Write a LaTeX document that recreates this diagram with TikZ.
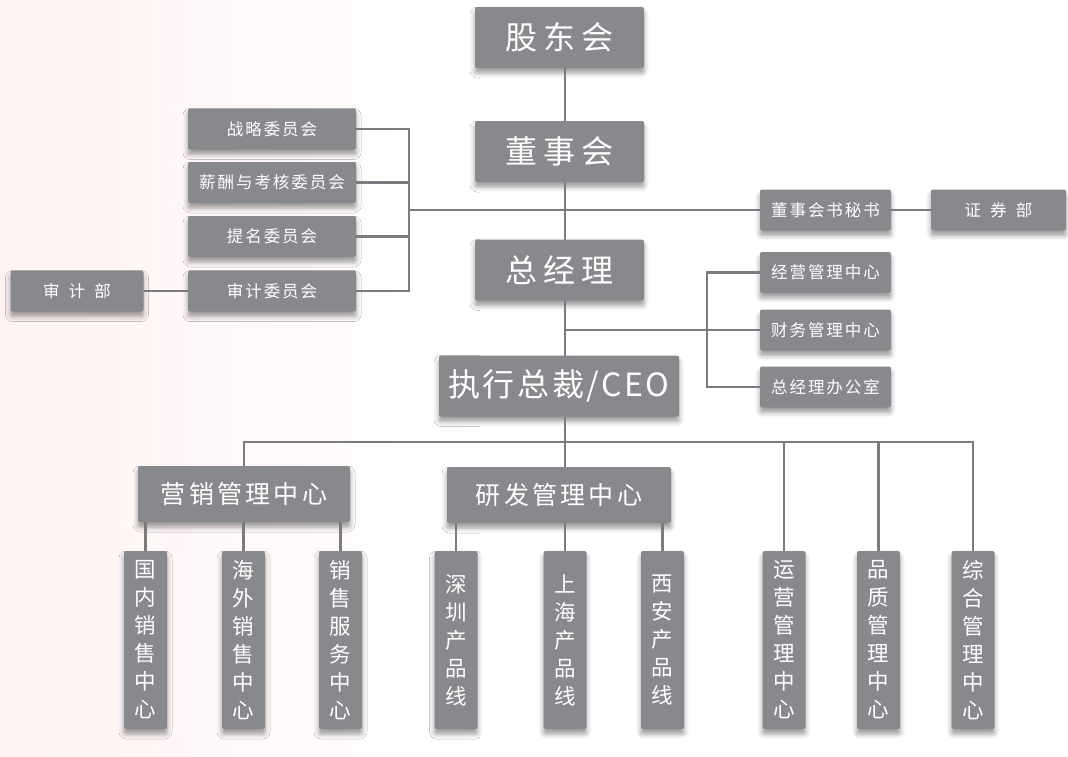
\documentclass[tikz,border=0pt]{standalone}
\usepackage{fontspec}
\setmainfont{Noto Sans CJK SC}
\newfontfamily\bigfont[LetterSpace=18]{Noto Sans CJK SC}
\newfontfamily\ceofont[LetterSpace=8]{Noto Sans CJK SC}
\newfontfamily\midfont[LetterSpace=13]{Noto Sans CJK SC}
\newfontfamily\smallfont[LetterSpace=12]{Noto Sans CJK SC}
\newfontfamily\widefont[LetterSpace=55]{Noto Sans CJK SC}
\usetikzlibrary{shadows.blur}
\definecolor{boxgray}{RGB}{136,137,141}
\definecolor{linegray}{RGB}{122,123,127}

\begin{document}
\begin{tikzpicture}[x=1pt,y=-1pt,
  box/.style={fill=boxgray, text=white, rounded corners=2pt, inner sep=0pt, outer sep=0pt,
    blur shadow={shadow xshift=0pt, shadow yshift=-5pt, shadow blur radius=5pt, shadow opacity=40}},
  big/.style={box, minimum width=169pt, minimum height=61pt, font=\bigfont\fontsize{32}{36}\selectfont},
  mid/.style={box, minimum height=56pt, font=\midfont\fontsize{25}{30}\selectfont},
  small/.style={box, minimum width=131pt, minimum height=41pt, font=\smallfont\fontsize{16.5}{20}\selectfont},
  wide/.style={small, minimum width=133pt, font=\widefont\fontsize{16.5}{20}\selectfont},
  vbox/.style={box, minimum width=43pt, minimum height=178pt, align=center, font=\fontsize{21.5}{28}\selectfont},
  line/.style={draw=linegray, line width=2.8pt}]
\useasboundingbox (0,0) rectangle (1068,756);
\shade[left color=red!5, right color=white] (0,0) rectangle (480,756);

\node[big] (gd) at (559.5,37.5) {股东会};
\node[big] (ds) at (559.5,151.5) {董事会};
\node[big] (zjl) at (559.5,270) {总经理};
\node[big, minimum width=240pt, font=\ceofont\fontsize{32}{36}\selectfont] (ceo) at (559,386) {执行总裁/CEO};

\node[small, minimum width=168pt] (zlwy) at (272,129) {战略委员会};
\node[small, minimum width=168pt] (xcwy) at (272,182.5) {薪酬与考核委员会};
\node[small, minimum width=168pt] (tmwy) at (272,236.5) {提名委员会};
\node[small, minimum width=168pt] (sjwy) at (272,291) {审计委员会};
\node[wide] (sjb) at (77,291) {审计部};

\node[small] (msh) at (825.5,210) {董事会书秘书};
\node[wide, minimum width=135pt] (zqb) at (998.5,210) {证券部};
\node[small] (jy) at (825.5,272.5) {经营管理中心};
\node[small] (cw) at (825.5,330) {财务管理中心};
\node[small] (zb) at (825.5,387) {总经理办公室};

\node[mid, minimum width=212pt] (yx) at (244,494) {营销管理中心};
\node[mid, minimum width=224pt] (yf) at (559,495) {研发管理中心};

\node[vbox] (gn) at (145.5,640) {国\\内\\销\\售\\中\\心};
\node[vbox] (hw) at (243.5,640) {海\\外\\销\\售\\中\\心};
\node[vbox] (xs) at (340.5,640) {销\\售\\服\\务\\中\\心};
\node[vbox] (sz) at (456,640) {深\\圳\\产\\品\\线};
\node[vbox] (sh) at (565,640) {上\\海\\产\\品\\线};
\node[vbox] (xa) at (662.5,640) {西\\安\\产\\品\\线};
\node[vbox] (yy) at (784,640) {运\\营\\管\\理\\中\\心};
\node[vbox] (pz) at (878.5,640) {品\\质\\管\\理\\中\\心};
\node[vbox] (zh) at (973,640) {综\\合\\管\\理\\中\\心};

\coordinate (wy) at (409,210);
\coordinate (gl) at (707,330);
\coordinate (sp) at (565,330);
\coordinate (bus) at (565,442);

\draw[line] (gd.south -| bus) -- (ds.north -| bus);
\draw[line] (ds.south -| bus) -- (zjl.north -| bus);
\draw[line] (zjl.south -| bus) -- (ceo.north -| bus);
\draw[line] (ceo.south -| bus) -- (yf.north -| bus);

\draw[line] (zlwy.east) -| (wy);
\draw[line] (xcwy.east) -| (wy);
\draw[line] (tmwy.east) -| (wy);
\draw[line] (sjwy.east) -| (wy);
\draw[line] (wy) -- (msh.west);
\draw[line] (msh.east) -- (zqb.west);
\draw[line] (sjb.east) -- (sjwy.west);

\draw[line] (sp) -- (cw.west);
\draw[line] (jy.west) -| (gl);
\draw[line] (zb.west) -| (gl);

\draw[line] (yx.north) |- (bus) -| (zh.north);
\draw[line] (yy.north) -- (yy.north |- bus);
\draw[line] (pz.north) -- (pz.north |- bus);

\draw[line] (gn.north) -- (gn.north |- yx.south);
\draw[line] (hw.north) -- (hw.north |- yx.south);
\draw[line] (xs.north) -- (xs.north |- yx.south);
\draw[line] (sz.north) -- (sz.north |- yf.south);
\draw[line] (sh.north) -- (sh.north |- yf.south);
\draw[line] (xa.north) -- (xa.north |- yf.south);
\end{tikzpicture}
\end{document}
